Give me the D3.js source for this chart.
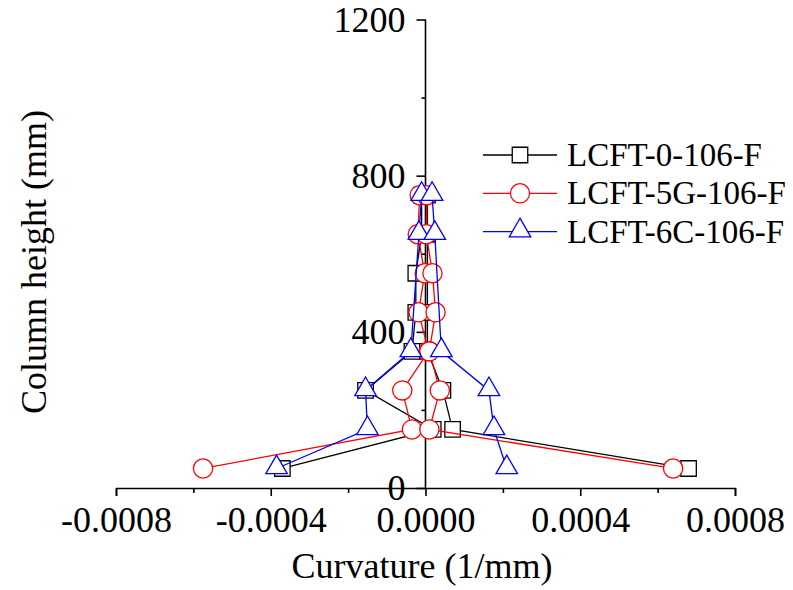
<!DOCTYPE html>
<html>
<head>
<meta charset="utf-8">
<script src="https://cdn.jsdelivr.net/npm/d3@7"></script>
<style>
body { margin: 0; background: #fff; }
text { font-family: "Liberation Serif", "Times New Roman", serif; }
</style>
</head>
<body>
<script>
var w = 793;
var h = 590;

// column heights (mm) where curvature was measured
var heights = [50, 150, 250, 350, 450, 550, 650, 750];

// curvature (1/mm), one array for each loading direction
var lcft0Neg = [-0.00037, 0.00002, -0.000155, -0.000035, -0.000025, -0.000025, -0.00001, -0.00001];
var lcft0Pos = [0.00068, 0.00007, 0.000045, 0.000005, 0.000005, 0.000005, 0.000005, 0.000005];
var lcft5gNeg = [-0.000575, -0.000035, -0.00006, 0.000008, -0.000018, -0.000002, -0.00002, -0.000015];
var lcft5gPos = [0.00064, 0.00001, 0.000037, 0.00001, 0.000026, 0.000018, 0.000002, 0.000003];
var lcft6cNeg = [-0.000385, -0.00015, -0.000155, -0.000038, null, null, -0.000017, -0.00001];
var lcft6cPos = [0.00021, 0.000177, 0.000164, 0.000041, null, null, 0.000024, 0.000017];

var seriesNames = ["LCFT-0-106-F", "LCFT-5G-106-F", "LCFT-6C-106-F"];
var xMajor = [-0.0008, -0.0004, 0, 0.0004, 0.0008];
var xMinor = [-0.0006, -0.0002, 0.0002, 0.0006];
var yMajor = [0, 400, 800, 1200];
var yMinor = [200, 600, 1000];

var series = [
    {name: seriesNames[0], color: "#000000", shape: "square", branches: [lcft0Neg, lcft0Pos]},
    {name: seriesNames[1], color: "#ff0000", shape: "circle", branches: [lcft5gNeg, lcft5gPos]},
    {name: seriesNames[2], color: "#0000ff", shape: "triangle", branches: [lcft6cNeg, lcft6cPos]}
];

var xScale = d3.scaleLinear()
    .domain([-0.0008, 0.0008])
    .range([116, 735]);

var yScale = d3.scaleLinear()
    .domain([0, 1200])
    .range([488, 19.5]);

var svg = d3.select("body")
    .append("svg")
    .attr("width", w)
    .attr("height", h);

// axes
var xAxis = d3.axisBottom(xScale)
    .tickValues(xMajor)
    .tickSize(8)
    .tickPadding(10)
    .tickFormat(function(d){ return d.toFixed(4); });

var xAxisMinor = d3.axisBottom(xScale)
    .tickValues(xMinor)
    .tickSize(5)
    .tickFormat("");

var yAxis = d3.axisLeft(yScale)
    .tickValues(yMajor)
    .tickSize(9)
    .tickPadding(11)
    .tickFormat(d3.format("d"));

var yAxisMinor = d3.axisLeft(yScale)
    .tickValues(yMinor)
    .tickSize(4)
    .tickFormat("");

function styleAxis(g) {
    g.select(".domain").attr("stroke", "#000").attr("stroke-width", 1.6);
    g.selectAll(".tick line").attr("stroke", "#000").attr("stroke-width", 1.6);
    g.selectAll(".tick text").attr("fill", "#000").attr("font-size", "36px")
        .attr("font-family", "Liberation Serif");
}

svg.append("g")
    .attr("transform", "translate(0," + yScale(0) + ")")
    .call(xAxis)
    .call(styleAxis);
svg.append("g")
    .attr("transform", "translate(0," + yScale(0) + ")")
    .call(xAxisMinor)
    .call(styleAxis)
    .select(".domain").remove();

svg.append("g")
    .attr("transform", "translate(" + xScale(0) + ",0)")
    .call(yAxis)
    .call(styleAxis)
    .select(".domain").attr("d", "M0," + yScale(0) + "V" + yScale(1200));
svg.append("g")
    .attr("transform", "translate(" + xScale(0) + ",0)")
    .call(yAxisMinor)
    .call(styleAxis)
    .select(".domain").remove();

// axis titles
svg.append("text")
    .attr("x", 422)
    .attr("y", 578)
    .attr("text-anchor", "middle")
    .attr("font-size", "36px")
    .text("Curvature (1/mm)");

svg.append("text")
    .attr("transform", "translate(46,262) rotate(-90)")
    .attr("text-anchor", "middle")
    .attr("font-size", "36px")
    .text("Column height (mm)");

// markers
var symbols = {
    square: d3.symbol().type(d3.symbolSquare).size(240),
    circle: d3.symbol().type(d3.symbolCircle).size(290),
    triangle: d3.symbol().type(d3.symbolTriangle).size(200)
};

var line = d3.line()
    .x(function(d){ return xScale(d[0]); })
    .y(function(d){ return yScale(d[1]); });

series.forEach(function(s){
    var g = svg.append("g");
    s.branches.forEach(function(vals){
        var pts = [];
        vals.forEach(function(v, i){
            if (v !== null) pts.push([v, heights[i]]);
        });
        g.append("path")
            .datum(pts)
            .attr("d", line)
            .attr("fill", "none")
            .attr("stroke", s.color)
            .attr("stroke-width", 1.3);
    });
    s.branches.forEach(function(vals){
        var pts = [];
        vals.forEach(function(v, i){
            if (v !== null) pts.push([v, heights[i]]);
        });
        g.selectAll(null)
            .data(pts)
            .enter()
            .append("path")
            .attr("d", symbols[s.shape])
            .attr("transform", function(d){
                var dy = s.shape === "triangle" ? -1 : 0;
                return "translate(" + xScale(d[0]) + "," + (yScale(d[1]) + dy) + ")";
            })
            .attr("fill", "#fff")
            .attr("stroke", s.color)
            .attr("stroke-width", 1.3);
    });
});

// legend
var legend = svg.append("g");
series.forEach(function(s, i){
    var ly = 155 + i * 38.3;
    legend.append("line")
        .attr("x1", 483).attr("x2", 557)
        .attr("y1", ly).attr("y2", ly)
        .attr("stroke", s.color)
        .attr("stroke-width", 1.3);
    legend.append("path")
        .attr("d", symbols[s.shape])
        .attr("transform", "translate(520," + (ly + (s.shape === "triangle" ? -1 : 0)) + ")")
        .attr("fill", "#fff")
        .attr("stroke", s.color)
        .attr("stroke-width", 1.3);
    legend.append("text")
        .attr("x", 567)
        .attr("y", ly + 11)
        .attr("font-size", "33px")
        .text(s.name);
});
</script>
</body>
</html>
